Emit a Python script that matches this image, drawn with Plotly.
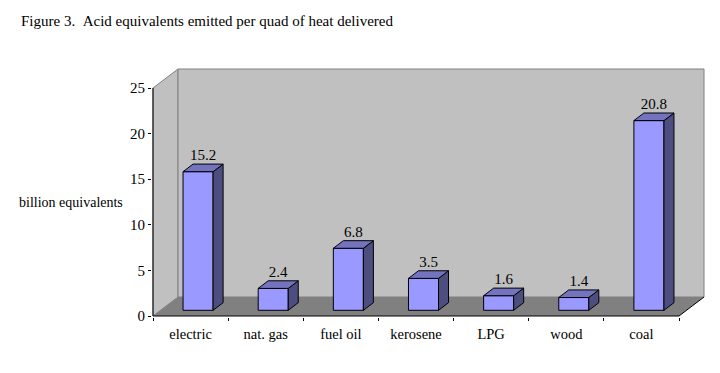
import plotly.graph_objects as go

# ---------------- data ----------------
categories = ["electric", "nat. gas", "fuel oil", "kerosene", "LPG", "wood", "coal"]
values = [15.2, 2.4, 6.8, 3.5, 1.6, 1.4, 20.8]
value_labels = ["15.2", "2.4", "6.8", "3.5", "1.6", "1.4", "20.8"]
y_ticks = [0, 5, 10, 15, 20, 25]
title_text = "Figure 3.\u00a0\u00a0Acid equivalents emitted per quad of heat delivered"
y_label = "billion equivalents"

# ---------------- geometry / style ----------------
W, H = 720, 373
X0_PX, XN_PX = 153, 679          # front axis ends (pixels)
Y0_PX, YTOP_PX = 316, 88         # front value axis 0 and 25 (pixels)
DEPTH_X_PX, DEPTH_Y_PX = 25, 19  # 3-D depth offset (pixels)
YMAX = 25
n = len(categories)
px_per_cat = (XN_PX - X0_PX) / n
px_per_unit = (Y0_PX - YTOP_PX) / YMAX
DX = DEPTH_X_PX / px_per_cat
DY = DEPTH_Y_PX / px_per_unit
PAD = 1
plot_left = X0_PX - PAD
plot_right = XN_PX + DEPTH_X_PX + PAD
plot_bottom = Y0_PX + PAD
plot_top = YTOP_PX - DEPTH_Y_PX - PAD
x_range = [-PAD / px_per_cat, n + DX + PAD / px_per_cat]
y_range = [-PAD / px_per_unit, YMAX + DY + PAD / px_per_unit]

BW = 0.4          # bar width (categories)
F0, F1 = 0.3, 0.7  # bar front / back depth fraction

FONT = "Liberation Serif, Times New Roman, serif"
FRONT = "#9999FF"
SIDE = "#4D4D80"
TOP = "#7373BF"
WALL = "#C0C0C0"
FLOOR = "#808080"
EDGE = "#808080"

fig = go.Figure()

# walls and floor (shapes in data coordinates)
shapes = [
    dict(type="path", xref="x", yref="y", layer="below",
         path=f"M 0,0 L {DX},{DY} L {DX},{YMAX + DY} L 0,{YMAX} Z",
         fillcolor=WALL, line=dict(color=EDGE, width=1)),
    dict(type="path", xref="x", yref="y", layer="below",
         path=f"M {DX},{DY} L {n + DX},{DY} L {n + DX},{YMAX + DY} L {DX},{YMAX + DY} Z",
         fillcolor=WALL, line=dict(color=EDGE, width=1)),
    dict(type="path", xref="x", yref="y", layer="below",
         path=f"M 0,0 L {n},0 L {n + DX},{DY} L {DX},{DY} Z",
         fillcolor=FLOOR, line=dict(width=0)),
]

# axis lines drawn in data coordinates
fig.add_trace(go.Scatter(x=[0, 0, None, 0, n, n + DX], y=[YMAX, 0, None, 0, 0, DY],
                         mode="lines", line=dict(color="black", width=1),
                         hoverinfo="skip", showlegend=False))

# bars
ddx = (F1 - F0) * DX
ddy = (F1 - F0) * DY
side_x, side_y, top_x, top_y = [], [], [], []
centers = []
for i, v in enumerate(values):
    c = i + 0.5
    xl = c - BW / 2 + F0 * DX
    xr = c + BW / 2 + F0 * DX
    yb = F0 * DY
    yt = v + F0 * DY
    side_x += [xr, xr + ddx, xr + ddx, xr, xr, None]
    side_y += [yb, yb + ddy, yt + ddy, yt, yb, None]
    top_x += [xl, xl + ddx, xr + ddx, xr, xl, None]
    top_y += [yt, yt + ddy, yt + ddy, yt, yt, None]
    centers.append(c + F0 * DX)

fig.add_trace(go.Bar(x=centers, y=values, base=F0 * DY, width=BW,
                     marker=dict(color=FRONT, line=dict(color="black", width=1)),
                     hoverinfo="skip", showlegend=False))
fig.add_trace(go.Scatter(x=side_x, y=side_y, mode="lines", fill="toself", fillcolor=SIDE,
                         line=dict(color="black", width=1), hoverinfo="skip", showlegend=False))
fig.add_trace(go.Scatter(x=top_x, y=top_y, mode="lines", fill="toself", fillcolor=TOP,
                         line=dict(color="black", width=1), hoverinfo="skip", showlegend=False))

# data labels
fig.add_trace(go.Scatter(x=[c + ddx / 2 for c in centers],
                         y=[v + F1 * DY for v in values],
                         mode="text", text=value_labels, textposition="top center",
                         textfont=dict(family=FONT, size=15, color="black"),
                         cliponaxis=False, hoverinfo="skip", showlegend=False))

plot_w = plot_right - plot_left
fig.update_layout(
    width=W, height=H,
    margin=dict(l=plot_left, r=W - plot_right, t=plot_top, b=H - plot_bottom, pad=0),
    paper_bgcolor="white", plot_bgcolor="rgba(0,0,0,0)",
    shapes=shapes,
    showlegend=False,
    font=dict(family=FONT, size=14.5, color="black"),
    title=dict(text=title_text, xref="container", yref="container",
               x=21 / W, xanchor="left", y=1 - 21 / H, yanchor="middle",
               font=dict(family=FONT, size=15, color="black")),
    annotations=[dict(text=y_label, xref="paper", yref="y",
                      x=(17 - plot_left) / plot_w, xanchor="left",
                      y=(Y0_PX - 202) / px_per_unit, yanchor="middle",
                      showarrow=False, font=dict(family=FONT, size=14, color="black"))],
    xaxis=dict(range=x_range, tickmode="array", tickvals=[i + 0.5 for i in range(n)],
               ticktext=categories, ticks="", showgrid=False, zeroline=False, showline=False,
               ticklabelstandoff=6,
               tickfont=dict(family=FONT, size=14.5, color="black"),
               minor=dict(tickmode="linear", tick0=0, dtick=1, ticks="outside", ticklen=3,
                          tickcolor="black", tickwidth=1, showgrid=False),
               fixedrange=True),
    yaxis=dict(range=y_range, tickmode="array", tickvals=y_ticks, ticks="outside",
               ticklen=3, tickcolor="black", tickwidth=1,
               showgrid=False, zeroline=False, showline=False,
               tickfont=dict(family=FONT, size=15, color="black"),
               fixedrange=True),
)

fig.write_html("out.html", config={"displayModeBar": False},
               post_script="document.body.style.margin='0';document.body.style.padding='0';")
